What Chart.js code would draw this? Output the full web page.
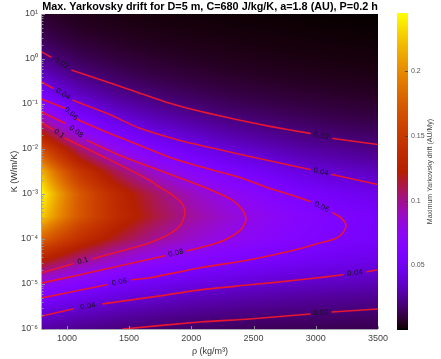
<!DOCTYPE html>
<html><head><meta charset="utf-8">
<script src="https://cdn.jsdelivr.net/npm/chart.js@4/dist/chart.umd.min.js"></script>
<style>html,body{margin:0;padding:0;background:#fff}canvas{display:block}</style>
</head><body>
<canvas id="c" width="441" height="359"></canvas>
<script>
// ---------- text ----------
const titleText = 'Max. Yarkovsky drift for D=5 m, C=680 J/kg/K, a=1.8 (AU), P=0.2 h';
const xTitle = 'ρ (kg/m³)';
const yTitle = 'K (W/m/K)';
const cbTitle = 'Maximum Yarkovsky drift (AU/My)';

// ---------- ticks ----------
const xTicks = [1000, 1500, 2000, 2500, 3000, 3500];
const yExponents = [-6, -5, -4, -3, -2, -1, 0, 1];
const cbTicks = [0.05, 0.1, 0.15, 0.2];
const cbRange = [0.0008, 0.2444];

// ---------- heat-map grid ----------
const rhoGrid = [800, 1100, 1400, 1700, 2000, 2300, 2600, 2900, 3200, 3500];
const logKGrid = [1, 0.5, 0, -0.5, -1, -1.5, -2, -2.5, -3, -3.5, -4, -4.5, -5, -5.5, -6];
const drift800  = [0.0078, 0.0137, 0.0239, 0.0412, 0.0688, 0.1086, 0.163, 0.217, 0.2435, 0.227, 0.178, 0.122, 0.078, 0.0476, 0.028];
const drift1100 = [0.0048, 0.0083, 0.0149, 0.0258, 0.0434, 0.0699, 0.106, 0.146, 0.173, 0.171, 0.140, 0.100, 0.065, 0.040, 0.0239];
const drift1400 = [0.0033, 0.0060, 0.0106, 0.0183, 0.0309, 0.050, 0.0771, 0.109, 0.1334, 0.136, 0.116, 0.0848, 0.0556, 0.0348, 0.0209];
const drift1700 = [0.0025, 0.0045, 0.0079, 0.0138, 0.0236, 0.0385, 0.0598, 0.0863, 0.1087, 0.1139, 0.0989, 0.073, 0.0489, 0.031, 0.0184];
const drift2000 = [0.0020, 0.0036, 0.0063, 0.0110, 0.0188, 0.0312, 0.0483, 0.0707, 0.0902, 0.0973, 0.0868, 0.0653, 0.0437, 0.0278, 0.0166];
const drift2300 = [0.0016, 0.0029, 0.0051, 0.0088, 0.0151, 0.0252, 0.0395, 0.0591, 0.0769, 0.085, 0.0775, 0.0595, 0.0404, 0.0258, 0.0155];
const drift2600 = [0.00135, 0.0024, 0.0042, 0.0074, 0.0127, 0.0212, 0.0334, 0.050, 0.0668, 0.0749, 0.0698, 0.0548, 0.0375, 0.024, 0.0146];
const drift2900 = [0.0011, 0.0020, 0.0035, 0.0062, 0.0107, 0.0179, 0.0281, 0.0422, 0.0573, 0.0663, 0.0633, 0.0506, 0.0352, 0.0228, 0.0141];
const drift3200 = [0.00095, 0.0017, 0.0030, 0.0053, 0.0092, 0.0154, 0.0247, 0.0372, 0.0512, 0.0601, 0.0583, 0.0476, 0.0336, 0.0217, 0.0134];
const drift3500 = [0.0008, 0.0015, 0.0026, 0.0046, 0.0081, 0.0136, 0.0218, 0.0333, 0.0459, 0.0548, 0.054, 0.0448, 0.0316, 0.0207, 0.0128];
const driftColumns = [drift800, drift1100, drift1400, drift1700, drift2000, drift2300, drift2600, drift2900, drift3200, drift3500];

// ---------- contour lines: [rho, log10 K], null = label gap ----------
const contourLevels = ['0.02', '0.04', '0.06', '0.08', '0.1', '0.04', '0.02'];
const c002a = [[800,0.153],[872,0.041],null,[1041,-0.248],[1427,-0.605],[1829,-0.984],[2070,-1.163],[2391,-1.363],[2632,-1.497],[2954,-1.653],null,[3138,-1.765],[3500,-1.899]];
const c004a = [[800,-0.516],[888,-0.650],null,[1049,-0.917],[1322,-1.207],[1588,-1.541],[1909,-1.809],[2255,-2.032],[2471,-2.165],[2954,-2.455],null,[3130,-2.567],[3500,-2.790]];
const c006  = [[800,-0.895],[985,-1.095],null,[1081,-1.340],[1322,-1.630],[1588,-1.920],[1853,-2.209],[2126,-2.432],[2391,-2.633],[2608,-2.856],[2817,-3.035],[2954,-3.168],null,[3138,-3.413],[3211,-3.547],[3243,-3.703],[3219,-3.859],[3155,-3.993],[3010,-4.104],[2873,-4.216],[2471,-4.461],[2070,-4.639],[1668,-4.862],[1523,-4.907],null,[1322,-5.018],[800,-5.308]];
const c008  = [[800,-1.184],[985,-1.429],null,[1162,-1.808],[1427,-2.143],[1748,-2.477],[1965,-2.700],[2150,-2.901],[2335,-3.146],[2415,-3.369],[2439,-3.569],[2399,-3.792],[2255,-4.038],[2070,-4.194],[1965,-4.261],null,[1788,-4.372],[1427,-4.595],[1105,-4.796],[800,-4.975]];
const c010  = [[800,-1.429],[888,-1.563],null,[985,-1.763],[1322,-2.209],[1668,-2.700],[1724,-2.811],[1829,-2.987],[1925,-3.211],[1949,-3.434],[1909,-3.702],[1829,-3.880],[1668,-4.081],[1210,-4.438],null,[1049,-4.550],[800,-4.751]];
const c004b = [[800,-5.710],[1049,-5.554],null,[1290,-5.442],[1748,-5.264],[2070,-5.130],[2471,-5.018],[2873,-4.907],[3219,-4.795],null,[3412,-4.728],[3500,-4.684]];
const c002b = [[1451,-6.0],[2070,-5.844],[2471,-5.778],[2954,-5.666],null,[3130,-5.621],[3500,-5.554]];
const contours = [c002a, c004a, c006, c008, c010, c004b, c002b];

// ---------- helpers ----------
const SUP = {'-':'⁻','0':'⁰','1':'¹','2':'²','3':'³','4':'⁴','5':'⁵','6':'⁶','7':'⁷','8':'⁸','9':'⁹'};
function supStr(n){ return String(n).split('').map(ch => SUP[ch]).join(''); }

function gnuplot(v){
  let t = (v - cbRange[0]) / (cbRange[1] - cbRange[0]);
  t = Math.min(1, Math.max(0, t));
  return [255*Math.sqrt(t), 255*t*t*t, 255*Math.max(0, Math.sin(2*Math.PI*t))];
}
function locate(arr, v, desc){
  const n = arr.length;
  for (let i = 0; i < n-1; i++){
    const a = arr[i], b = arr[i+1];
    const inside = desc ? (v <= a && v >= b) : (v >= a && v <= b);
    if (inside) return [i, (v - a) / (b - a)];
  }
  if (desc) return v > arr[0] ? [0,0] : [n-2,1];
  return v < arr[0] ? [0,0] : [n-2,1];
}
function fieldAt(rho, lk){
  const [i, fx] = locate(rhoGrid, rho, false);
  const [j, fy] = locate(logKGrid, lk, true);
  const L = (c, r) => Math.log(driftColumns[c][r]);
  const v = (1-fx)*(1-fy)*L(i,j) + fx*(1-fy)*L(i+1,j) + (1-fx)*fy*L(i,j+1) + fx*fy*L(i+1,j+1);
  return Math.exp(v);
}

const tickColor = '#444';
const TICK_FONT = {family: 'Liberation Sans', size: 9};
const noVPad = s => { s.paddingTop = 0; s.paddingBottom = 0; };

// ---------- plugins ----------
const heatmapPlugin = {
  id: 'heatmap',
  beforeDatasetsDraw(chart){
    const {ctx, chartArea: a, scales: {x, y}} = chart;
    const w = Math.round(a.right - a.left), h = Math.round(a.bottom - a.top);
    const off = document.createElement('canvas'); off.width = w; off.height = h;
    const octx = off.getContext('2d');
    const img = octx.createImageData(w, h);
    const rhos = [];
    for (let px = 0; px < w; px++) rhos.push(x.getValueForPixel(a.left + px + 0.5));
    for (let py = 0; py < h; py++){
      const lk = Math.log10(y.getValueForPixel(a.top + py + 0.5));
      for (let px = 0; px < w; px++){
        const c = gnuplot(fieldAt(rhos[px], lk));
        const k = (py*w + px)*4;
        img.data[k] = c[0]; img.data[k+1] = c[1]; img.data[k+2] = c[2]; img.data[k+3] = 255;
      }
    }
    octx.putImageData(img, 0, 0);
    ctx.save();
    ctx.drawImage(off, a.left, a.top);
    ctx.restore();
  },
  afterDatasetsDraw(chart){
    const {ctx, chartArea: a, scales: {x, y}} = chart;
    ctx.save();
    // contour labels
    ctx.font = '7px "DejaVu Sans"';
    ctx.fillStyle = '#151515';
    ctx.textAlign = 'center'; ctx.textBaseline = 'middle';
    contours.forEach((c, ci) => {
      for (let k = 1; k < c.length-1; k++){
        if (c[k] !== null) continue;
        const p0 = c[k-1], p1 = c[k+1];
        const x0 = x.getPixelForValue(p0[0]), y0 = y.getPixelForValue(Math.pow(10, p0[1]));
        const x1 = x.getPixelForValue(p1[0]), y1 = y.getPixelForValue(Math.pow(10, p1[1]));
        let ang = Math.atan2(y1 - y0, x1 - x0);
        if (ang > Math.PI/2) ang -= Math.PI;
        if (ang < -Math.PI/2) ang += Math.PI;
        ctx.save();
        ctx.translate((x0+x1)/2, (y0+y1)/2);
        ctx.rotate(ang);
        ctx.fillText(contourLevels[ci], 0, 0);
        ctx.restore();
      }
    });
    // axes lines and inward ticks
    ctx.strokeStyle = '#a8a8b0'; ctx.lineWidth = 1;
    ctx.beginPath();
    ctx.moveTo(a.left - 0.5, a.top); ctx.lineTo(a.left - 0.5, a.bottom + 0.5);
    ctx.lineTo(a.right, a.bottom + 0.5);
    ctx.stroke();
    ctx.strokeStyle = 'rgba(150,150,160,0.9)';
    ctx.beginPath();
    xTicks.forEach(v => { const px = Math.round(x.getPixelForValue(v)) + 0.5; ctx.moveTo(px, a.bottom); ctx.lineTo(px, a.bottom - 3); });
    yExponents.forEach(e => {
      const py = Math.round(y.getPixelForValue(Math.pow(10, e))) + 0.5;
      ctx.moveTo(a.left, py); ctx.lineTo(a.left + 3, py);
      if (e < 1) for (let m = 2; m <= 9; m++){
        const q = Math.round(y.getPixelForValue(m*Math.pow(10, e))) + 0.5;
        ctx.moveTo(a.left, q); ctx.lineTo(a.left + 1.5, q);
      }
    });
    ctx.stroke();
    ctx.restore();
  },
  afterDraw(chart){
    const {ctx, chartArea: a, scales: {cb}} = chart;
    ctx.save();
    // colorbar
    const bx0 = a.right + 19, bx1 = a.right + 30;
    for (let py = Math.floor(cb.top) - 1; py < Math.ceil(cb.bottom) + 1; py++){
      const c = gnuplot(cb.getValueForPixel(py + 0.5));
      ctx.fillStyle = `rgb(${c[0]|0},${c[1]|0},${c[2]|0})`;
      ctx.fillRect(bx0, py, bx1 - bx0, 1);
    }
    ctx.strokeStyle = 'rgba(60,60,60,0.8)'; ctx.lineWidth = 1;
    ctx.beginPath();
    cbTicks.forEach(v => { const py = Math.round(cb.getPixelForValue(v)) + 0.5; ctx.moveTo(bx1, py); ctx.lineTo(bx1 - 3, py); });
    ctx.stroke();
    // colorbar title
    ctx.fillStyle = '#444';
    ctx.font = '7px "Liberation Sans"';
    ctx.textAlign = 'center'; ctx.textBaseline = 'middle';
    ctx.translate(a.right + 52, (cb.top + cb.bottom)/2);
    ctx.rotate(-Math.PI/2);
    ctx.fillText(cbTitle, 0, 0);
    ctx.restore();
    // chart title
    ctx.save();
    ctx.fillStyle = '#000';
    let fs = 10;
    ctx.font = `bold ${fs}px "Liberation Sans"`;
    const tw = ctx.measureText(titleText).width;
    fs = fs * (a.right - a.left) / tw;
    ctx.font = `bold ${fs.toFixed(2)}px "Liberation Sans"`;
    ctx.textAlign = 'center'; ctx.textBaseline = 'middle';
    ctx.fillText(titleText, (a.left + a.right)/2, 7);
    ctx.restore();
  }
};

const datasets = contours.map(c => ({
  data: c.map((p, k) => p ? {x: p[0], y: Math.pow(10, p[1])} : {x: (c[k-1][0] + c[k+1][0])/2, y: null}),
  borderColor: 'rgb(232,22,48)',
  borderWidth: 1.6,
  pointRadius: 0,
  tension: 0.25,
  spanGaps: false,
  fill: false,
  borderCapStyle: 'round'
}));

new Chart(document.getElementById('c'), {
  type: 'line',
  data: {datasets},
  options: {
    responsive: false,
    animation: false,
    events: [],
    layout: {padding: {top: 14, left: 0, right: 0, bottom: 0}},
    plugins: {legend: {display: false}, tooltip: {enabled: false}, title: {display: false}},
    scales: {
      x: {
        type: 'linear', min: 800, max: 3500,
        afterBuildTicks: s => { s.ticks = xTicks.map(v => ({value: v})); },
        afterFit: s => { s.height = 30; s.paddingLeft = 0; s.paddingRight = 0; },
        grid: {display: false, drawTicks: false},
        border: {display: false},
        ticks: {color: tickColor, font: TICK_FONT, padding: 4, maxRotation: 0, callback: v => String(v)},
        title: {display: true, text: xTitle, color: '#333', font: {family: 'Liberation Sans', size: 9}, padding: {top: 0, bottom: 2}}
      },
      y: {
        type: 'logarithmic', min: 1e-6, max: 10, position: 'left',
        afterBuildTicks: s => { s.ticks = yExponents.map(e => ({value: Math.pow(10, e)})); },
        afterFit: s => { s.width = 42; noVPad(s); },
        grid: {display: false, drawTicks: false},
        border: {display: false},
        ticks: {color: tickColor, font: TICK_FONT, padding: 4, autoSkip: false,
          callback: v => '10' + supStr(Math.round(Math.log10(v)))},
        title: {display: true, text: yTitle, color: '#333', font: {family: 'Liberation Sans', size: 9}, padding: {top: 9, bottom: 0}}
      },
      cb: {
        type: 'linear', min: cbRange[0], max: cbRange[1], position: 'right',
        afterBuildTicks: s => { s.ticks = cbTicks.map(v => ({value: v})); },
        afterFit: s => { s.width = 63; noVPad(s); },
        grid: {display: false, drawTicks: false},
        border: {display: false},
        ticks: {color: '#555', font: {family: 'Liberation Sans', size: 7}, padding: 33,
          callback: v => String(+v.toFixed(2))}
      }
    }
  },
  plugins: [heatmapPlugin]
});
</script>
</body></html>
